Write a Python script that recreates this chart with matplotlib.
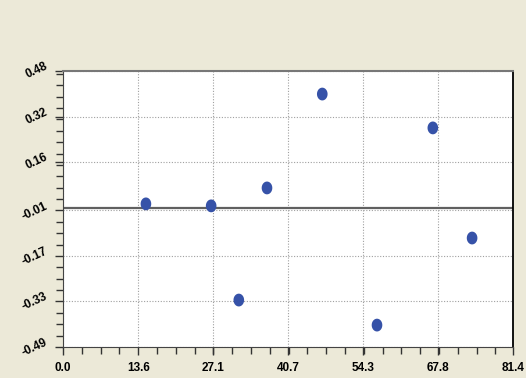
import numpy as np
import matplotlib
matplotlib.use('Agg')
import matplotlib.pyplot as plt
from matplotlib.ticker import FixedLocator, AutoMinorLocator
from matplotlib.path import Path
from matplotlib.transforms import ScaledTranslation

# data
x_vals = [15.0, 26.8, 31.8, 36.9, 46.9, 56.8, 66.9, 74.0]
y_vals = [0.013, 0.006, -0.325, 0.069, 0.399, -0.413, 0.28, -0.107]
x_ticks = [0.0, 13.6, 27.1, 40.7, 54.3, 67.8, 81.4]
y_ticks = [-0.49, -0.33, -0.17, -0.01, 0.16, 0.32, 0.48]

bg = '#ECE9D8'
plt.rcParams['font.family'] = ['Liberation Sans', 'DejaVu Sans']

fig = plt.figure(figsize=(5.26, 3.78), dpi=100, facecolor=bg)
ax = fig.add_axes([63/526, 1 - 347/378, 450/526, 276/378])
ax.set_facecolor('white')

# slightly tall ellipse marker
t = np.linspace(0, 2*np.pi, 40)
ell = Path(np.column_stack([0.83*np.cos(t), np.sin(t)]), closed=True)
ax.scatter(x_vals, y_vals, s=85, color='#3652A8', zorder=3,
           marker=ell, edgecolors='none')
ax.axhline(0, color='#606060', lw=1.6, zorder=2)

ax.set_xlim(0, 81.4)
ax.set_ylim(-0.49, 0.48)
ax.xaxis.set_major_locator(FixedLocator(x_ticks))
ax.yaxis.set_major_locator(FixedLocator(y_ticks))
ax.xaxis.set_minor_locator(AutoMinorLocator(4))
ax.yaxis.set_minor_locator(AutoMinorLocator(4))
ax.set_xticklabels(['%.1f' % v for v in x_ticks], fontsize=8.5, fontweight='bold')
ax.set_yticklabels(['%.2f' % v for v in y_ticks], fontsize=8.5, fontweight='bold',
                   rotation=25)
ax.tick_params(which='major', length=6, width=1, color='#333333')
ax.tick_params(which='minor', length=5, width=1, color='#333333')
ax.tick_params(axis='x', pad=5)
ax.tick_params(axis='y', pad=4)
off = ScaledTranslation(0, 6/100, fig.dpi_scale_trans)
for lab in ax.get_yticklabels():
    lab.set_transform(lab.get_transform() + off)
ax.grid(True, which='major', color='#A0A0A0', ls=(0, (1, 1.5)), lw=0.8)

ax.spines['left'].set_color('#444444')
ax.spines['bottom'].set_color('#444444')
ax.spines['top'].set_color('#777777')
ax.spines['top'].set_linewidth(1.5)
ax.spines['right'].set_color('black')
ax.spines['right'].set_linewidth(1.3)

plt.savefig('out.png', dpi=100, facecolor=bg)
